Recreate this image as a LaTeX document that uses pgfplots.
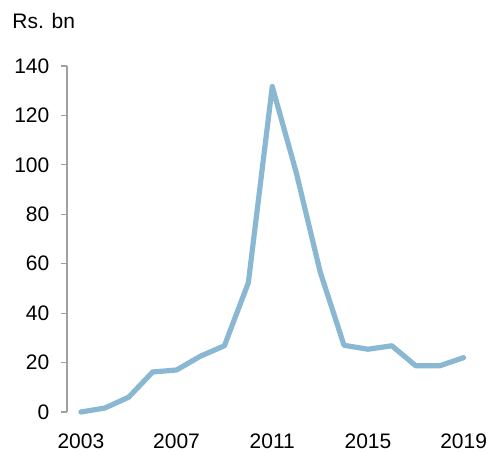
\documentclass[border=0pt]{standalone}
\usepackage{fontspec}
\setmainfont{Liberation Sans}
\usepackage{pgfplots}
\pgfplotsset{compat=1.18}
\definecolor{linec}{HTML}{8AB8D2}
\definecolor{axc}{HTML}{A0A0A0}
\begin{document}
\begin{tikzpicture}
\path[use as bounding box] (-33.5pt,-19.5pt) rectangle (211.5pt,206pt);
\begin{axis}[
  at={(0,0)}, anchor=origin,
  scale only axis,
  width=202.5pt, height=173pt,
  xmin=2002.42, xmax=2019.35,
  ymin=0, ymax=140,
  axis x line*=bottom, axis y line*=left,
  x axis line style={draw=none},
  y axis line style={draw=axc, line width=0.6pt, -},
  xtick={2003,2007,2011,2015,2019},
  ytick={0,20,...,140},
  xtick style={draw=none},
  ytick style={draw=axc, line width=0.6pt},
  tick align=outside,
  major tick length=2.8pt,
  /pgf/number format/assume math mode=true,
  /pgf/number format/1000 sep={},
  tick label style={font=\fontsize{10.5}{12}\selectfont, text=black},
  yticklabel style={xshift=-2.5pt},
  xticklabel style={yshift=-4.5pt},
  clip=false,
]
\addplot[color=linec, line width=2.6pt, line join=round, line cap=round] coordinates {
(2003,0) (2004,1.6) (2005,6) (2006,16.2) (2007,17) (2008,22.6) (2009,26.8)
(2010,52.3) (2011,131.7) (2012,97) (2013,56.8) (2014,27) (2015,25.4)
(2016,26.8) (2017,18.7) (2018,18.7) (2019,22)
};
\node[anchor=base west, font=\fontsize{10.5}{12}\selectfont, inner sep=0pt] at ([xshift=-27.5pt,yshift=19pt]rel axis cs:0,1) {Rs. bn};
\end{axis}
\end{tikzpicture}
\end{document}
